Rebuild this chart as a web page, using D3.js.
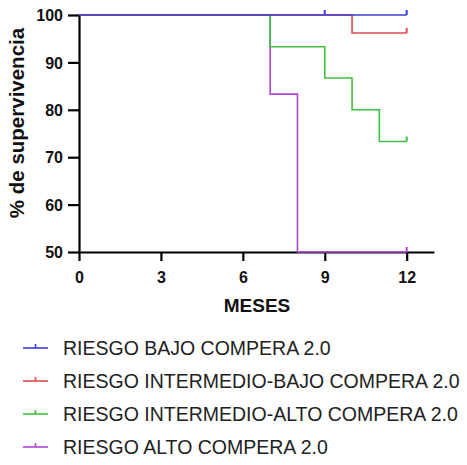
<!DOCTYPE html>
<html>
<head>
<meta charset="utf-8">
<script src="https://cdn.jsdelivr.net/npm/d3@7"></script>
<style>
  body { margin: 0; background: #fff; }
  svg { font-family: "Liberation Sans", Arial, sans-serif; }
</style>
</head>
<body>
<div id="chart"></div>
<script>
// tick labels
const monthTicks = [0, 3, 6, 9, 12];
const survTicks = [50, 60, 70, 80, 90, 100];

// series: step times, survival (%) and censored times
const seriesNames = [
    "RIESGO BAJO COMPERA 2.0",
    "RIESGO INTERMEDIO-BAJO COMPERA 2.0",
    "RIESGO INTERMEDIO-ALTO COMPERA 2.0",
    "RIESGO ALTO COMPERA 2.0"
];
const seriesColors = ["#3b3bdc", "#e04a4a", "#3fbf3f", "#b046d6"];

const bajoTimes = [0, 12];
const bajoSurv = [100, 100];
const bajoCensor = [9, 12];

const intBajoTimes = [0, 10, 12];
const intBajoSurv = [100, 96.2, 96.2];
const intBajoCensor = [12];

const intAltoTimes = [0, 7, 9, 10, 11, 12];
const intAltoSurv = [100, 93.3, 86.7, 80, 73.3, 73.3];
const intAltoCensor = [12];

const altoTimes = [0, 7, 8, 12];
const altoSurv = [100, 83.3, 50, 50];
const altoCensor = [12];

const series = [
    { times: bajoTimes, surv: bajoSurv, censor: bajoCensor },
    { times: intBajoTimes, surv: intBajoSurv, censor: intBajoCensor },
    { times: intAltoTimes, surv: intAltoSurv, censor: intAltoCensor },
    { times: altoTimes, surv: altoSurv, censor: altoCensor }
].map((s, i) => ({ ...s, name: seriesNames[i], color: seriesColors[i] }));

const svg = d3.select("#chart")
    .append("svg")
    .attr("width", 467)
    .attr("height", 465);

const x = d3.scaleLinear().domain([0, 13]).range([79, 434]);
const y = d3.scaleLinear().domain([50, 100]).range([252, 15]);

// axes
const xAxis = svg.append("g")
    .attr("transform", "translate(0," + y(50) + ")")
    .call(d3.axisBottom(x).tickValues(monthTicks).tickSize(9).tickSizeOuter(0));

const yAxis = svg.append("g")
    .attr("transform", "translate(" + x(0) + ",0)")
    .call(d3.axisLeft(y).tickValues(survTicks).tickSize(11).tickSizeOuter(0).tickPadding(5));

[xAxis, yAxis].forEach(g => {
    g.select(".domain").attr("stroke", "#000").attr("stroke-width", 2.2);
    g.selectAll(".tick line").attr("stroke", "#000").attr("stroke-width", 2.2);
    g.selectAll(".tick text")
        .attr("fill", "#111")
        .style("font-size", "16px")
        .style("font-weight", "bold");
});
xAxis.selectAll(".tick text").attr("y", 31).attr("dy", 0);
yAxis.selectAll(".tick text").attr("dy", "0.36em");

// survival curves, last drawn on top
const line = d3.line()
    .x(d => x(d[0]))
    .y(d => y(d[1]))
    .curve(d3.curveStepAfter);

const drawOrder = [3, 2, 1, 0];
drawOrder.forEach(i => {
    const s = series[i];
    const pts = s.times.map((t, j) => [t, s.surv[j]]);
    svg.append("path")
        .datum(pts)
        .attr("fill", "none")
        .attr("stroke", s.color)
        .attr("stroke-width", 1.6)
        .attr("d", line);

    // censor marks
    s.censor.forEach(t => {
        let j = d3.bisectRight(s.times, t) - 1;
        const v = s.surv[j];
        svg.append("line")
            .attr("x1", x(t)).attr("x2", x(t))
            .attr("y1", y(v)).attr("y2", y(v) - 5)
            .attr("stroke", s.color)
            .attr("stroke-width", 2);
    });
});

// axis titles
svg.append("text")
    .attr("x", 257)
    .attr("y", 312)
    .attr("text-anchor", "middle")
    .style("font-size", "19px")
    .style("font-weight", "bold")
    .attr("fill", "#111")
    .text("MESES");

svg.append("text")
    .attr("transform", "translate(24,123) rotate(-90)")
    .attr("text-anchor", "middle")
    .style("font-size", "20.5px")
    .style("font-weight", "bold")
    .attr("fill", "#111")
    .text("% de supervivencia");

// legend
const legend = svg.append("g");
series.forEach((s, i) => {
    const ly = 348 + i * 33;
    legend.append("line")
        .attr("x1", 23).attr("x2", 48)
        .attr("y1", ly).attr("y2", ly)
        .attr("stroke", s.color).attr("stroke-width", 1.6);
    legend.append("line")
        .attr("x1", 35.5).attr("x2", 35.5)
        .attr("y1", ly).attr("y2", ly - 4)
        .attr("stroke", s.color).attr("stroke-width", 1.6);
    legend.append("text")
        .attr("x", 63)
        .attr("y", ly)
        .attr("dy", "0.36em")
        .style("font-size", "19.5px")
        .attr("fill", "#222")
        .text(s.name);
});
</script>
</body>
</html>
